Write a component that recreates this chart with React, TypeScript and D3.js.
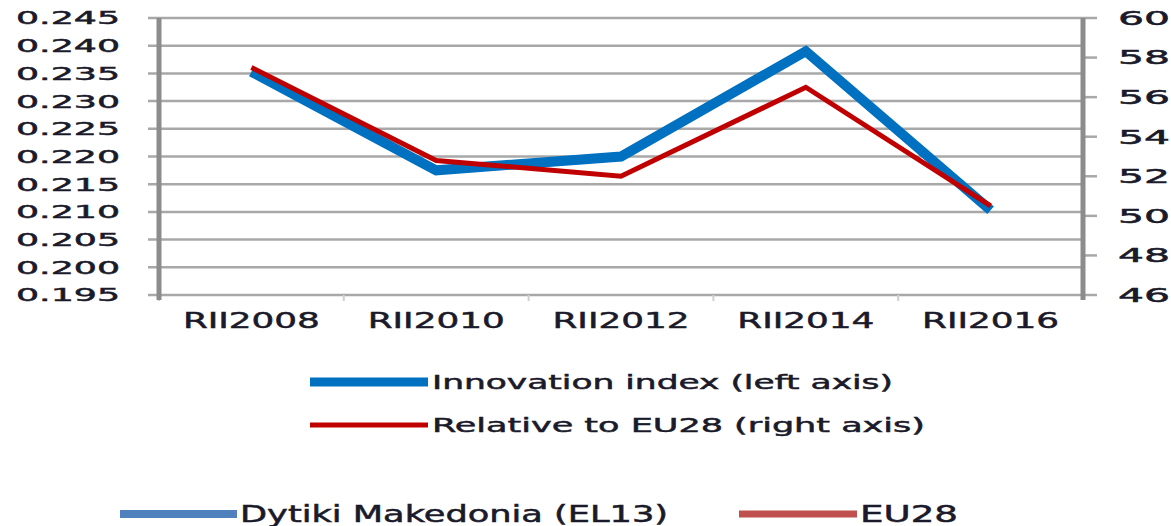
import { useEffect } from "react";
import * as d3 from "d3";

const W = 1171;
const H = 526;
const PLOT = { left: 159, right: 1083, top: 18, bottom: 295 };

const categories = ["RII2008", "RII2010", "RII2012", "RII2014", "RII2016"];
const innovationIndex = [0.2353, 0.2175, 0.22, 0.239, 0.2103];
const relativeToEU = [57.5, 52.8, 52.0, 56.5, 50.5];
const leftTicks = [0.195, 0.2, 0.205, 0.21, 0.215, 0.22, 0.225, 0.23, 0.235, 0.24, 0.245];
const rightTicks = [46, 48, 50, 52, 54, 56, 58, 60];

const FONT = "'DejaVu Sans', Verdana, sans-serif";
const TEXT = "#1a1a2a";
const AXIS = "#8c8c8c";
const GRID = "#a8a8a8";

// text props shared by every label: slightly heavier than regular, like the blurry original
const txt = { fill: TEXT, stroke: TEXT, strokeWidth: 0.5, lengthAdjust: "spacingAndGlyphs" };

const App = () => {
  useEffect(() => {
    document.body.style.margin = "0";
  }, []);

  const x = d3.scaleBand().domain(categories).range([PLOT.left, PLOT.right]);
  const cx = (c: string) => (x(c) ?? 0) + x.bandwidth() / 2;
  const yL = d3.scaleLinear().domain([0.195, 0.245]).range([PLOT.bottom, PLOT.top]);
  const yR = d3.scaleLinear().domain([46, 60]).range([PLOT.bottom, PLOT.top]);

  const lineL = d3
    .line<number>()
    .x((_, i) => cx(categories[i]))
    .y((d) => yL(d));
  const lineR = d3
    .line<number>()
    .x((_, i) => cx(categories[i]))
    .y((d) => yR(d));

  return (
    <svg width={W} height={H} style={{ display: "block" }} fontFamily={FONT}>
      <rect width={W} height={H} fill="#fff" />

      {/* gridlines + left ticks */}
      {leftTicks.map((t) => (
        <line
          key={"g" + t}
          x1={PLOT.left - 11}
          x2={PLOT.right}
          y1={yL(t)}
          y2={yL(t)}
          stroke={GRID}
          strokeWidth={2.5}
        />
      ))}
      {leftTicks.map((t) => (
        <text key={"l" + t} x={120} y={yL(t)} dy="0.36em" textAnchor="end" fontSize={18} textLength={104} {...txt}>
          {t.toFixed(3)}
        </text>
      ))}

      {/* right ticks */}
      {rightTicks.map((t) => (
        <line
          key={"r" + t}
          x1={PLOT.right}
          x2={PLOT.right + 14}
          y1={yR(t)}
          y2={yR(t)}
          stroke={GRID}
          strokeWidth={2.5}
        />
      ))}
      {rightTicks.map((t) => (
        <text key={"rl" + t} x={1118} y={yR(t)} dy="0.36em" fontSize={19} textLength={52} {...txt}>
          {t}
        </text>
      ))}

      {/* category boundary ticks */}
      {categories.map((c) => (
        <line
          key={"t" + c}
          x1={x(c)}
          x2={x(c)}
          y1={PLOT.bottom}
          y2={PLOT.bottom + 6}
          stroke="#cfcfcf"
          strokeWidth={2}
        />
      ))}

      {/* axes */}
      <line x1={PLOT.left} x2={PLOT.left} y1={PLOT.top} y2={PLOT.bottom + 5} stroke={AXIS} strokeWidth={5} />
      <line x1={PLOT.right} x2={PLOT.right} y1={PLOT.top} y2={PLOT.bottom + 5} stroke={AXIS} strokeWidth={5} />

      {categories.map((c) => (
        <text key={"x" + c} x={cx(c)} y={328} textAnchor="middle" fontSize={22} textLength={137} {...txt}>
          {c}
        </text>
      ))}

      {/* series */}
      <path d={lineL(innovationIndex) ?? ""} fill="none" stroke="#0070c0" strokeWidth={10} />
      <path d={lineR(relativeToEU) ?? ""} fill="none" stroke="#c00000" strokeWidth={5} />

      {/* legend */}
      <line x1={310} x2={428} y1={382} y2={382} stroke="#0070c0" strokeWidth={9} />
      <text x={432} y={389} fontSize={20} textLength={461} {...txt}>
        Innovation index (left axis)
      </text>
      <line x1={310} x2={428} y1={425} y2={425} stroke="#c00000" strokeWidth={5} />
      <text x={432} y={432} fontSize={20} textLength={493} {...txt}>
        Relative to EU28 (right axis)
      </text>

      <line x1={120} x2={237} y1={514} y2={514} stroke="#4f81bd" strokeWidth={8} />
      <text x={240} y={522} fontSize={23} textLength={428} {...txt}>
        Dytiki Makedonia (EL13)
      </text>
      <line x1={739} x2={857} y1={514} y2={514} stroke="#c0504d" strokeWidth={7} />
      <text x={860} y={522} fontSize={23} textLength={98} {...txt}>
        EU28
      </text>
    </svg>
  );
};

export default App;
